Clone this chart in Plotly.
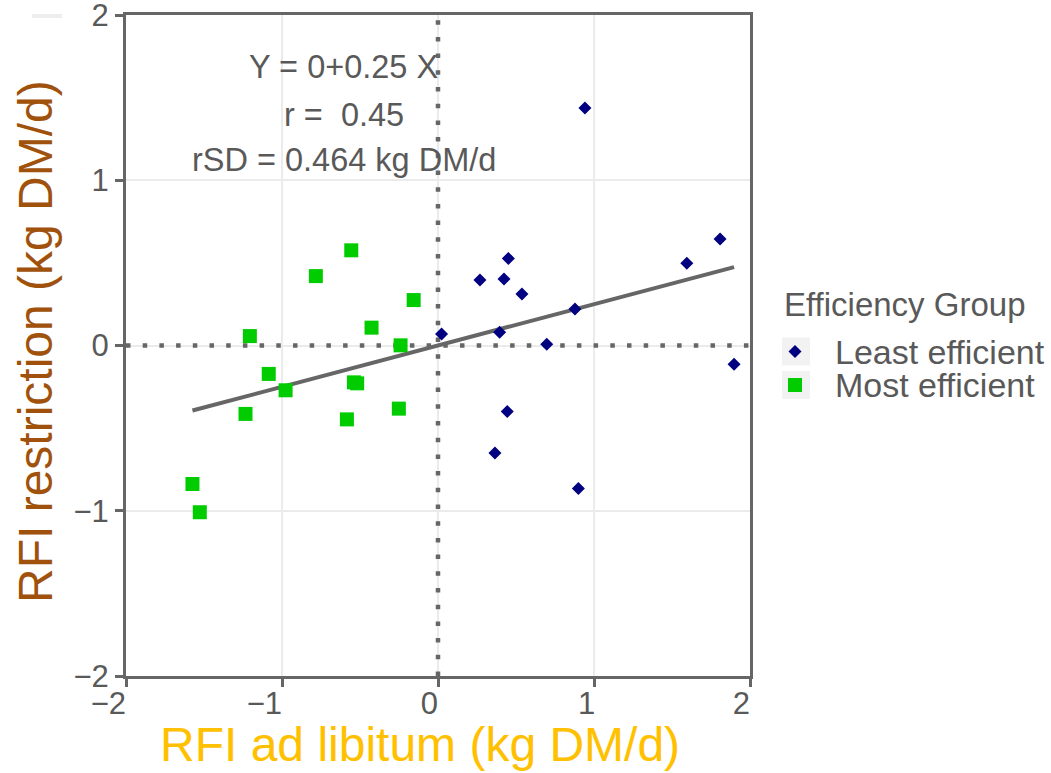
import plotly.graph_objects as go
import numpy as np

# Most efficient group (green squares)
most_x = [-0.556, -0.783, -0.156, -0.426, -1.206, -0.240, -1.085, -0.977, -0.539, -0.518,
          -1.234, -0.584, -0.251, -1.574, -1.527]
most_y = [0.576, 0.420, 0.275, 0.108, 0.057, 0.001, -0.172, -0.271, -0.223, -0.229,
          -0.414, -0.447, -0.382, -0.838, -1.009]

# Least efficient group (navy diamonds)
least_x = [0.942, 1.808, 1.595, 0.451, 0.269, 0.423, 0.538, 0.878, 0.023, 0.395,
           0.697, 1.898, 0.444, 0.365, 0.900]
least_y = [1.437, 0.644, 0.497, 0.527, 0.396, 0.402, 0.311, 0.221, 0.070, 0.080,
           0.007, -0.114, -0.400, -0.650, -0.866]

intercept = 0.0
slope = 0.25
stats_lines = ["Y = 0+0.25 X", "r =  0.45", "rSD = 0.464 kg DM/d"]
tick_vals = [-2, -1, 0, 1, 2]
tick_text = ["\u22122", "\u22121", "0", "1", "2"]
group_names = ["Least efficient", "Most efficient"]
group_colors = ["#000080", "#00CC00"]

FONT = "Liberation Sans, Arial, sans-serif"
GRAY = "#666666"
TXT = "#595959"

# plot area in pixels (for placing paper-referenced decorations)
L, R, T, B = 126, 750, 15, 676
def px(x):
    return (x - L) / (R - L)
def py(y):
    return (B - y) / (B - T)

fig = go.Figure()

all_x = most_x + least_x
xl = np.array([min(all_x), max(all_x)])

# reference dotted lines at 0
fig.add_trace(go.Scatter(x=[0, 0], y=[-2, 2], mode="lines", showlegend=False, hoverinfo="skip",
                         line=dict(color=GRAY, width=4.5, dash="4.5px,12.2px")))
fig.add_trace(go.Scatter(x=[-2, 2], y=[0, 0], mode="lines", showlegend=False, hoverinfo="skip",
                         line=dict(color=GRAY, width=4.5, dash="4.5px,12.2px")))

fig.add_trace(go.Scatter(x=xl, y=intercept + slope * xl, mode="lines",
                         line=dict(color=GRAY, width=4), showlegend=False, hoverinfo="skip"))

fig.add_trace(go.Scatter(x=least_x, y=least_y, mode="markers", name=group_names[0], showlegend=False,
                         marker=dict(symbol="diamond", size=10, color=group_colors[0])))
fig.add_trace(go.Scatter(x=most_x, y=most_y, mode="markers", name=group_names[1], showlegend=False,
                         marker=dict(symbol="square", size=14, color=group_colors[1])))

for i, t in enumerate(stats_lines):
    fig.add_annotation(x=-0.605, y=[1.685, 1.394, 1.122][i], xref="x", yref="y", text=t,
                       showarrow=False, font=dict(family=FONT, size=32.5, color=TXT),
                       xanchor="center", yanchor="middle")

# axis titles
fig.add_annotation(x=px(420), y=py(745), xref="paper", yref="paper",
                   text="RFI ad libitum (kg DM/d)", showarrow=False,
                   font=dict(family=FONT, size=48, color="#FFC000"),
                   xanchor="center", yanchor="middle")
fig.add_annotation(x=px(36), y=py(342), xref="paper", yref="paper",
                   text="RFI restriction (kg DM/d)", showarrow=False, textangle=-90,
                   font=dict(family=FONT, size=48, color="#A0520D"),
                   xanchor="center", yanchor="middle")

# legend (drawn manually to match the compact ggplot legend)
fig.add_annotation(x=px(782), y=py(305), xref="paper", yref="paper", text="Efficiency Group",
                   showarrow=False, xanchor="left", yanchor="middle",
                   font=dict(family=FONT, size=33, color=TXT))
key_centers = [351.5, 385]
for i, (name, cy) in enumerate(zip(group_names, key_centers)):
    fig.add_shape(type="rect", xref="paper", yref="paper",
                  x0=px(782), x1=px(810), y0=py(cy + 14), y1=py(cy - 14),
                  fillcolor="#F2F2F2", line=dict(width=0))
    fig.add_annotation(x=px(833), y=py(cy), xref="paper", yref="paper", text=name,
                       showarrow=False, xanchor="left", yanchor="middle", height=30,
                       font=dict(family=FONT, size=34, color=TXT))
cx = 795
cy = key_centers[0]
d = 6.5
fig.add_shape(type="path", xref="paper", yref="paper",
              path=f"M {px(cx - d)},{py(cy)} L {px(cx)},{py(cy - d)} L {px(cx + d)},{py(cy)} "
                   f"L {px(cx)},{py(cy + d)} Z",
              fillcolor=group_colors[0], line=dict(width=0))
cy = key_centers[1]
s = 7
fig.add_shape(type="rect", xref="paper", yref="paper",
              x0=px(cx - s), x1=px(cx + s), y0=py(cy + s), y1=py(cy - s),
              fillcolor=group_colors[1], line=dict(width=0))

# faint artifact top-left
fig.add_shape(type="rect", xref="paper", yref="paper",
              x0=px(32), x1=px(62), y0=py(18), y1=py(14),
              fillcolor="#EEEEEE", line=dict(width=0))

axis_common = dict(range=[-2, 2], tickvals=tick_vals,
                   showgrid=True, gridcolor="#EBEBEB", gridwidth=1.5,
                   zeroline=False, showline=True, linecolor=GRAY, linewidth=3, mirror=True,
                   ticks="outside", ticklen=8, tickwidth=3, tickcolor=GRAY,
                   automargin=False, ticklabeloverflow="allow",
                   tickfont=dict(family=FONT, size=31, color=TXT))

# x tick labels sit right-aligned at their ticks in the reference: pad with a transparent copy
x_tick_text = [f"{t}<span style='color:rgba(0,0,0,0)'>{t}</span>" for t in tick_text]

fig.update_xaxes(**axis_common, ticktext=x_tick_text, ticklabelstandoff=-10)
fig.update_yaxes(**axis_common, ticktext=tick_text)

fig.update_layout(
    width=1051, height=773,
    margin=dict(l=L, r=1051 - R, t=T, b=773 - B),
    plot_bgcolor="white", paper_bgcolor="white",
    font=dict(family=FONT, color=TXT),
    showlegend=False,
)

fig.write_html("out.html")
